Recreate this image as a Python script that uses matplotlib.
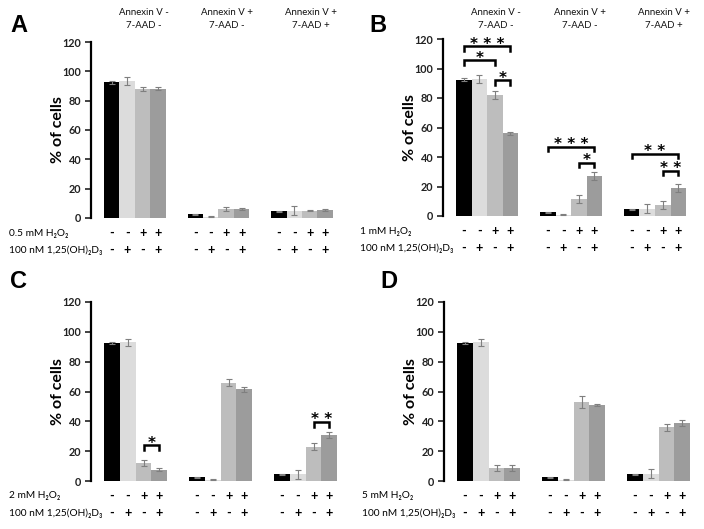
import matplotlib
matplotlib.use("Agg")
import matplotlib.pyplot as plt

plt.rcParams["font.family"] = ["Lato", "DejaVu Sans"]

# ---- data ----
groups = ["Annexin V -\n7-AAD -", "Annexin V +\n7-AAD -", "Annexin V +\n7-AAD +"]
h2o2_signs = ["-", "-", "+", "+"]
vitd_signs = ["-", "+", "-", "+"]
doses = ["0.5 mM", "1 mM", "2 mM", "5 mM"]
panel_letters = ["A", "B", "C", "D"]

vals_A = [[92.5, 93.5, 88, 88], [2.5, 1, 6, 6], [4.5, 5, 5, 5.5]]
errs_A = [[0.8, 2.5, 1.5, 1], [0.5, 0.3, 1.2, 0.5], [0.4, 3, 0.3, 0.4]]
vals_B = [[92.5, 93, 82, 56], [2.5, 1, 11.5, 27], [4.5, 5, 7.5, 19]]
errs_B = [[0.8, 2.5, 3, 1], [0.5, 0.3, 2.5, 2.5], [0.4, 3, 2.5, 3]]
vals_C = [[92.5, 93, 12, 7.5], [2.5, 1, 66, 61.5], [4.5, 4.5, 23, 31]]
errs_C = [[0.8, 2.5, 2, 1], [0.5, 0.3, 2.5, 1.5], [0.4, 3, 2.5, 2]]
vals_D = [[92.5, 93, 9, 9], [2.5, 1, 53, 51], [4.5, 5, 36, 39]]
errs_D = [[0.8, 2.5, 2, 2], [0.5, 0.3, 4, 0.5], [0.4, 3, 2.5, 2]]

# significance brackets: (group, bar_from, bar_to, y_top, label)
sig_B = [(0, 0, 3, 115, "***"), (0, 0, 2, 105.5, "*"), (0, 2, 3, 92, "*"),
         (1, 0, 3, 47, "***"), (1, 2, 3, 36, "*"),
         (2, 0, 3, 42, "**"), (2, 2, 3, 30.5, "**")]
sig_C = [(0, 2, 3, 24, "*"), (2, 2, 3, 39.5, "**")]

colors = ["#000000", "#dcdcdc", "#bdbdbd", "#9c9c9c"]
PERIOD = 5.4
XMIN, XMAX = -1.34, 15.0

W, H = 704, 529
fig = plt.figure(figsize=(W / 100, H / 100), dpi=100)


def px_axes(left, top, bottom, ppu):
    width = (XMAX - XMIN) * ppu
    return fig.add_axes([left / W, (H - bottom) / H, width / W, (bottom - top) / H])


def draw_panel(ax, vals, errs, dose, letter, sigs, headers, bottom_px, letter_xy, label_x):
    for g in range(3):
        for i in range(4):
            x = g * PERIOD + i
            ax.bar(x, vals[g][i], width=1.0, color=colors[i], zorder=2)
            ax.errorbar(x, vals[g][i], yerr=errs[g][i], color="#7f7f7f",
                        elinewidth=0.8, capsize=2, capthick=0.8, zorder=3)
    ax.set_xlim(XMIN, XMAX)
    ax.set_ylim(0, 120)
    ax.set_yticks(range(0, 121, 20))
    ax.set_xticks([])
    for s in ["top", "right", "bottom"]:
        ax.spines[s].set_visible(False)
    ax.spines["left"].set_linewidth(1.6)
    ax.tick_params(axis="y", length=4, width=1.2, labelsize=7.8, pad=3, colors="#222222")
    for lab in ax.get_yticklabels():
        lab.set_fontweight("bold")
    ax.set_ylabel("% of cells", fontsize=11.5, fontweight="bold", labelpad=-2)

    # treatment rows
    tr = ax.transData
    inv = fig.transFigure.inverted()
    for g in range(3):
        for i in range(4):
            x = g * PERIOD + i
            xf = inv.transform(tr.transform((x, 0)))[0]
            fig.text(xf, (H - bottom_px - 15) / H, h2o2_signs[i], ha="center", va="center",
                     fontsize=9, fontweight="bold")
            fig.text(xf, (H - bottom_px - 32) / H, vitd_signs[i], ha="center", va="center",
                     fontsize=9, fontweight="bold")
    fig.text(label_x / W, (H - bottom_px - 15) / H, dose + " H\u2082O\u2082",
             ha="left", va="center", fontsize=7.3, family=["Lato", "DejaVu Sans"])
    fig.text(label_x / W, (H - bottom_px - 32) / H, "100 nM 1,25(OH)\u2082D\u2083",
             ha="left", va="center", fontsize=7.3, family=["Lato", "DejaVu Sans"])

    if headers:
        for g in range(3):
            xc = g * PERIOD + 1.5 + 0.55
            xf = inv.transform(tr.transform((xc, 0)))[0]
            fig.text(xf, 1 - 19 / H, groups[g], ha="center", va="center",
                     fontsize=6.9, linespacing=1.5, color="#111111")

    fig.text(letter_xy[0] / W, 1 - letter_xy[1] / H, letter, ha="left", va="center",
             fontsize=17, fontweight="bold", family="Liberation Sans")

    for g, a, b, y, lab in sigs:
        x0 = g * PERIOD + a
        x1 = g * PERIOD + b
        ax.plot([x0, x0, x1, x1], [y - 3, y, y, y - 3], color="black", lw=1.8,
                clip_on=False, zorder=4, solid_joinstyle="miter")
        ax.text((x0 + x1) / 2, y - 1.6, " ".join(lab), ha="center", va="baseline",
                fontsize=11, fontweight="bold", family="DejaVu Sans", clip_on=False)


axA = px_axes(91, 42, 218, 15.47)
axB = px_axes(443, 39, 216, 15.54)
axC = px_axes(91, 302, 481, 15.74)
axD = px_axes(444, 302, 481, 15.74)

draw_panel(axA, vals_A, errs_A, doses[0], "A", [], True, 218, (10, 25), 9)
draw_panel(axB, vals_B, errs_B, doses[1], "B", sig_B, True, 216, (369, 25), 360)
draw_panel(axC, vals_C, errs_C, doses[2], "C", sig_C, False, 481, (10, 282), 9)
draw_panel(axD, vals_D, errs_D, doses[3], "D", [], False, 481, (380, 282), 362)

fig.savefig("out.png", dpi=100)
